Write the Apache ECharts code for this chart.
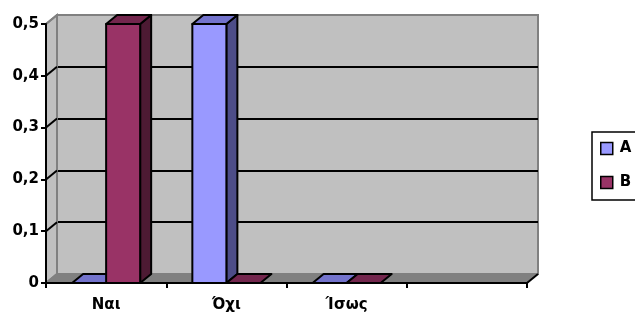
<!DOCTYPE html>
<html>
<head>
<meta charset="utf-8">
<script src="https://cdn.jsdelivr.net/npm/echarts@6/dist/echarts.min.js"></script>
<style>
  html, body { margin: 0; padding: 0; background: #fff; }
  #chart { width: 635px; height: 315px; }
</style>
</head>
<body>
<div id="chart"></div>
<script>
// data
var categories = ["Ναι", "Όχι", "Ίσως", ""];
var seriesA = [0, 0.5, 0, null];
var seriesB = [0.5, 0, 0, null];
var yTicks = [0, 0.1, 0.2, 0.3, 0.4, 0.5];

// 3D depth offset (px)
var DX = 11, DY = -9;
var FONT = "DejaVu Sans";

function toData(arr) {
  var out = [];
  arr.forEach(function(v, i) {
    if (v !== null) out.push([i, v]);
  });
  return out;
}

// draws one 3D box; s = position in the cluster
function boxRenderer(s, front, top, side) {
  return function(params, api) {
    var i = api.value(0), v = api.value(1);
    var band = api.size([1, 0])[0];
    var w = band * 0.283;
    var c = api.coord([i, v]);
    var b = api.coord([i, 0]);
    var x0 = c[0] - w + s * w;
    var x1 = x0 + w;
    var yt = c[1], yb = b[1];
    var line = { stroke: "#000", lineWidth: 2, lineJoin: "round" };
    var children = [];
    if (yb - yt > 0.5) {
      children.push({
        type: "polygon",
        shape: { points: [[x1, yt], [x1 + DX, yt + DY], [x1 + DX, yb + DY], [x1, yb]] },
        style: Object.assign({ fill: side }, line)
      });
      children.push({
        type: "rect",
        shape: { x: x0, y: yt, width: w, height: yb - yt },
        style: Object.assign({ fill: front }, line)
      });
    }
    children.push({
      type: "polygon",
      shape: { points: [[x0, yt], [x0 + DX, yt + DY], [x1 + DX, yt + DY], [x1, yt]] },
      style: Object.assign({ fill: top }, line)
    });
    return { type: "group", children: children };
  };
}

// left wall, floor and the slanted grid lines on the left wall
function frameRenderer(params, api) {
  var v = api.value(1);
  var band = api.size([1, 0])[0];
  var left = api.coord([0, 0])[0] - band / 2;
  var right = api.coord([categories.length - 1, 0])[0] + band / 2;
  var y0 = api.coord([0, 0])[1];
  var yTop = api.coord([0, yTicks[yTicks.length - 1]])[1];
  var y = api.coord([0, v])[1];
  var children = [];
  if (params.dataIndex === 0) {
    children.push({
      type: "polygon",
      shape: { points: [[left, yTop], [left + DX, yTop + DY], [left + DX, y0 + DY], [left, y0]] },
      style: { fill: "#c0c0c0", stroke: "#808080", lineWidth: 2 }
    });
    children.push({
      type: "polygon",
      shape: { points: [[left, y0], [left + DX, y0 + DY], [right + DX, y0 + DY], [right, y0]] },
      style: { fill: "#808080", stroke: null }
    });
    children.push({
      type: "line",
      shape: { x1: right, y1: y0, x2: right + DX, y2: y0 + DY },
      style: { stroke: "#000", lineWidth: 2 }
    });
  }
  var isEdge = params.dataIndex === 0 || params.dataIndex === yTicks.length - 1;
  children.push({
    type: "line",
    shape: { x1: left, y1: y, x2: left + DX, y2: y + DY },
    style: { stroke: isEdge ? "#808080" : "#000", lineWidth: 2 }
  });
  return { type: "group", children: children };
}

var chart = echarts.init(document.getElementById("chart"));
chart.setOption({
  animation: false,
  backgroundColor: "#fff",
  legend: {
    data: ["A", "B"],
    orient: "vertical",
    left: 592,
    top: 132,
    padding: [9, 40, 10, 8],
    itemGap: 19,
    itemWidth: 12,
    itemHeight: 12,
    icon: "rect",
    borderColor: "#000",
    borderWidth: 1.5,
    itemStyle: { borderColor: "#000", borderWidth: 1.5 },
    textStyle: { fontFamily: FONT, fontWeight: "bold", fontSize: 15, color: "#000", padding: [0, 0, 0, 2] }
  },
  grid: [
    { left: 46, top: 24, width: 481, height: 259, containLabel: false },
    {
      left: 46 + DX, top: 24 + DY, width: 481, height: 259,
      show: true, backgroundColor: "#c0c0c0", borderColor: "#808080", borderWidth: 2
    }
  ],
  xAxis: [
    {
      gridIndex: 0,
      type: "category",
      data: categories,
      z: 5,
      axisLine: { lineStyle: { color: "#000", width: 2 } },
      axisTick: { show: true, length: 5, lineStyle: { color: "#000", width: 2 } },
      axisLabel: {
        margin: 15, color: "#000",
        fontFamily: FONT, fontWeight: "bold", fontSize: 15
      },
      splitLine: { show: false }
    },
    {
      gridIndex: 1, type: "value", min: 0, max: 1,
      show: false
    }
  ],
  yAxis: [
    {
      gridIndex: 0,
      type: "value",
      min: 0,
      max: 0.5,
      interval: 0.1,
      z: 5,
      axisLine: { show: true, lineStyle: { color: "#000", width: 2 } },
      axisTick: { show: true, length: 5, lineStyle: { color: "#000", width: 2 } },
      axisLabel: {
        margin: 7, color: "#000",
        fontFamily: FONT, fontWeight: "bold", fontSize: 15,
        formatter: function(v) { return String(Math.round(v * 10) / 10).replace(".", ","); }
      },
      splitLine: { show: false }
    },
    {
      gridIndex: 1,
      type: "value",
      min: 0,
      max: 0.5,
      interval: 0.1,
      axisLine: { show: false },
      axisTick: { show: false },
      axisLabel: { show: false },
      splitLine: {
        show: true, showMinLine: false, showMaxLine: false,
        lineStyle: { color: "#000", width: 2 }
      }
    }
  ],
  series: [
    {
      name: "frame",
      type: "custom",
      xAxisIndex: 0, yAxisIndex: 0,
      z: 1,
      silent: true,
      data: yTicks.map(function(v) { return [0, v]; }),
      encode: { x: 0, y: 1 },
      renderItem: frameRenderer
    },
    {
      name: "A",
      type: "custom",
      xAxisIndex: 0, yAxisIndex: 0,
      z: 3,
      itemStyle: { color: "#9999ff" },
      data: toData(seriesA),
      encode: { x: 0, y: 1 },
      renderItem: boxRenderer(0, "#9999ff", "#7373cc", "#4d4d88")
    },
    {
      name: "B",
      type: "custom",
      xAxisIndex: 0, yAxisIndex: 0,
      z: 3,
      itemStyle: { color: "#993366" },
      data: toData(seriesB),
      encode: { x: 0, y: 1 },
      renderItem: boxRenderer(1, "#993366", "#73264d", "#4d1a33")
    }
  ]
});
</script>
</body>
</html>
